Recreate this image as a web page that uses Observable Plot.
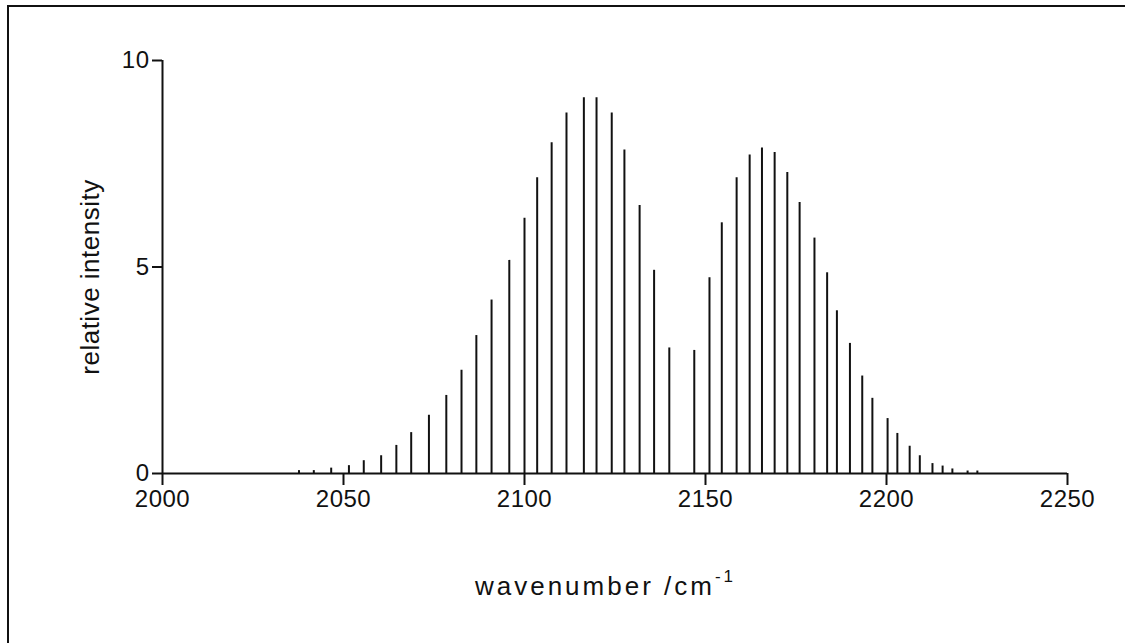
<!DOCTYPE html>
<html><head><meta charset="utf-8">
<script src="https://cdn.jsdelivr.net/npm/d3@7"></script>
<script src="https://cdn.jsdelivr.net/npm/@observablehq/plot@0.6"></script>
<style>
body{margin:0;background:#fff;}
#wrap{position:relative;width:1125px;height:643px;overflow:hidden;background:#fff;}
#chart{position:absolute;left:0;top:0;}
#frame{position:absolute;left:7px;top:5px;width:1300px;height:800px;border-top:2px solid #111;border-left:2px solid #111;z-index:2;}
#xlabel{position:absolute;left:0;width:1211px;top:571px;line-height:30px;text-align:center;font-family:"Liberation Sans",Arial,sans-serif;font-size:26px;letter-spacing:3px;color:#111;z-index:3;}
#xlabel sup{font-size:17px;line-height:0;position:relative;top:-3px;vertical-align:super;}
</style></head><body>
<div id="wrap"><div id="chart"></div><div id="frame"></div><div id="xlabel">wavenumber /cm<sup>-1</sup></div></div>
<script>
// P branch lines (wavenumber, relative intensity)
const pWavenumbers = [2037.7,2041.8,2046.6,2051.5,2055.6,2060.4,2064.6,2068.7,2073.6,2078.4,2082.6,2086.7,2090.9,2095.8,2100.0,2103.5,2107.5,2111.6,2116.4,2119.9,2124.1,2127.6,2131.8,2135.8,2140.0];
const pIntensities = [0.07,0.07,0.13,0.19,0.31,0.43,0.68,0.99,1.41,1.89,2.50,3.34,4.20,5.16,6.18,7.16,8.01,8.73,9.10,9.10,8.73,7.83,6.49,4.92,3.04];
// R branch lines
const rWavenumbers = [2146.9,2151.1,2154.5,2158.6,2162.2,2165.6,2169.1,2172.6,2176.0,2180.1,2183.6,2186.3,2189.9,2193.3,2196.1,2200.3,2203.0,2206.4,2209.2,2212.7,2215.5,2218.2,2222.4,2225.1];
const rIntensities = [2.98,4.74,6.07,7.16,7.71,7.88,7.77,7.29,6.56,5.70,4.86,3.94,3.15,2.36,1.82,1.33,0.97,0.66,0.43,0.24,0.18,0.11,0.06,0.06];
const xTicks = [2000,2050,2100,2150,2200,2250];
const yTicks = [0,5,10];
const yLabel = "relative intensity";

const lines = [
  ...pWavenumbers.map((w,i)=>({wn:w, I:pIntensities[i]})),
  ...rWavenumbers.map((w,i)=>({wn:w, I:rIntensities[i]}))
];
const ink = "#111";
const chart = Plot.plot({
  width: 1125, height: 643,
  marginLeft: 162, marginRight: 58, marginTop: 60, marginBottom: 170,
  x: {domain: [2000, 2250]},
  y: {domain: [0, 10]},
  style: {fontFamily: "'Liberation Sans', Arial, sans-serif", fontSize: "24px", color: ink, background: "transparent", letterSpacing: "0.5px"},
  marks: [
    Plot.ruleX(lines, {x: "wn", y1: 0, y2: "I", stroke: ink, strokeWidth: 2}),
    Plot.ruleY([0], {x1: 2000, x2: 2250, stroke: ink, strokeWidth: 2}),
    Plot.ruleX([2000], {y1: 0, y2: 10, stroke: ink, strokeWidth: 2}),
    Plot.axisX({ticks: xTicks, tickSize: 12, tickPadding: 4, tickFormat: "d", label: null, strokeWidth: 2}),
    Plot.axisY({ticks: yTicks, tickSize: 10, tickPadding: 3, tickFormat: "d", label: null, strokeWidth: 2}),
    Plot.text([yLabel], {frameAnchor: "left", textAnchor: "middle", rotate: -90, dx: -72, dy: 10, fontSize: 26, fill: ink, style: "letter-spacing:3.5px"})
  ]
});
document.getElementById("chart").appendChild(chart);
</script>
</body></html>
